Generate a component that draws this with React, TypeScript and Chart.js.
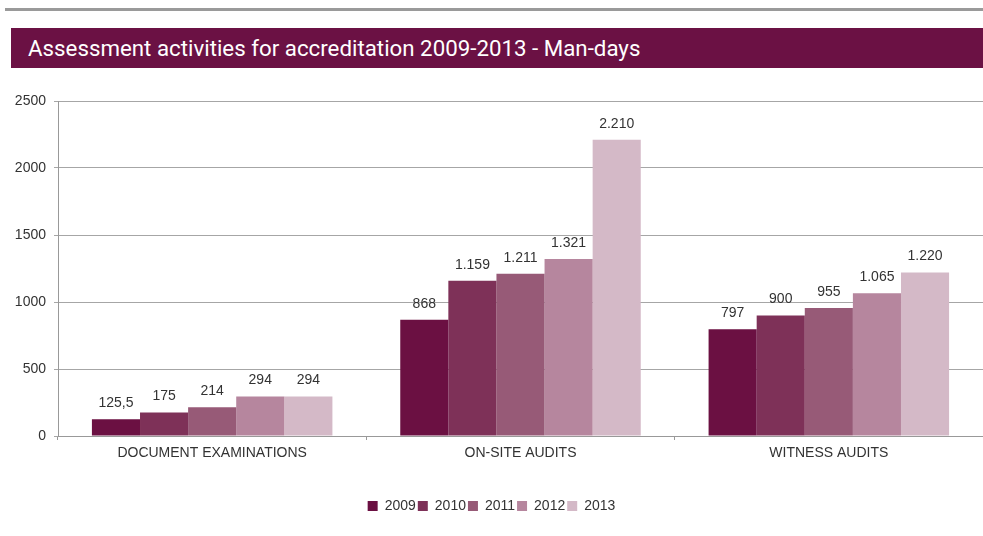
import React, { useEffect, useRef } from "react";
import { Chart, registerables } from "chart.js";

Chart.register(...registerables);

const title = "Assessment activities for accreditation 2009-2013 - Man-days";
const categories = ["DOCUMENT EXAMINATIONS", "ON-SITE AUDITS", "WITNESS AUDITS"];
const years = ["2009", "2010", "2011", "2012", "2013"];
const values2009 = [125.5, 868, 797];
const values2010 = [175, 1159, 900];
const values2011 = [214, 1211, 955];
const values2012 = [294, 1321, 1065];
const values2013 = [294, 2210, 1220];
const seriesValues = [values2009, values2010, values2011, values2012, values2013];
const seriesColors = ["#6b1042", "#7e3158", "#975a77", "#b6869e", "#d4b9c7"];
const yMax = 2500;
const yStep = 500;

const FONT = "'Liberation Sans', Arial, sans-serif";

const formatValue = (v: number) => v.toLocaleString("de-DE");

const valueLabels = {
  id: "valueLabels",
  afterDraw(chart: any) {
    const ctx = chart.ctx;
    ctx.save();
    ctx.font = `14px ${FONT}`;
    ctx.fillStyle = "#333333";
    ctx.textAlign = "center";
    ctx.textBaseline = "middle";
    chart.data.datasets.forEach((ds: any, i: number) => {
      const meta = chart.getDatasetMeta(i);
      meta.data.forEach((bar: any, j: number) => {
        ctx.fillText(formatValue(ds.data[j]), bar.x, bar.y - 16);
      });
    });
    ctx.restore();
  },
};

export default function App() {
  const canvasRef = useRef<HTMLCanvasElement | null>(null);

  useEffect(() => {
    const canvas = canvasRef.current;
    if (!canvas) return;
    const chart = new Chart(canvas, {
      type: "bar",
      data: {
        labels: categories,
        datasets: years.map((y, i) => ({
          label: y,
          data: seriesValues[i],
          backgroundColor: seriesColors[i],
          borderWidth: 0,
          categoryPercentage: 0.78,
          barPercentage: 1,
        })),
      },
      options: {
        animation: false,
        responsive: false,
        maintainAspectRatio: false,
        layout: { padding: { top: 21, right: 0, left: 0, bottom: 13 } },
        plugins: {
          tooltip: { enabled: false },
          legend: {
            position: "bottom",
            labels: {
              boxWidth: 10,
              boxHeight: 10,
              padding: 2,
              color: "#333333",
              font: { family: FONT, size: 14 },
            },
          },
        },
        scales: {
          x: {
            grid: {
              display: true,
              drawOnChartArea: false,
              drawTicks: true,
              tickLength: 4,
              color: "#999999",
            },
            border: { color: "#999999" },
            ticks: {
              color: "#333333",
              font: { family: FONT, size: 14 },
              padding: 5,
            },
            afterFit: (scale: any) => {
              scale.height = 61;
            },
          },
          y: {
            min: 0,
            max: yMax,
            z: 1,
            ticks: {
              stepSize: yStep,
              color: "#333333",
              font: { family: FONT, size: 14 },
              padding: 8,
              callback: (v: any) => String(v),
            },
            grid: { color: "#a6a6a6", tickLength: 4 },
            border: { color: "#999999" },
            afterFit: (scale: any) => {
              scale.width = 58;
            },
          },
        },
      },
      plugins: [valueLabels],
    });
    return () => chart.destroy();
  }, []);

  return (
    <div style={{ position: "fixed", left: 0, top: 0, width: 983, height: 536, background: "#fff" }}>
      <div style={{ position: "absolute", left: 5, top: 8, width: 978, height: 3, background: "#9a9a9a" }} />
      <div
        style={{
          position: "absolute",
          left: 11,
          top: 28,
          width: 972,
          height: 40,
          background: "#6b1144",
          color: "#fff",
          boxSizing: "border-box",
          paddingLeft: 17,
          fontFamily: "Roboto, sans-serif",
          fontSize: 22.3,
          lineHeight: "40px",
          whiteSpace: "nowrap",
        }}
      >
        {title}
      </div>
      <canvas ref={canvasRef} width={983} height={456} style={{ position: "absolute", left: 0, top: 80, width: 983, height: 456 }} />
    </div>
  );
}
